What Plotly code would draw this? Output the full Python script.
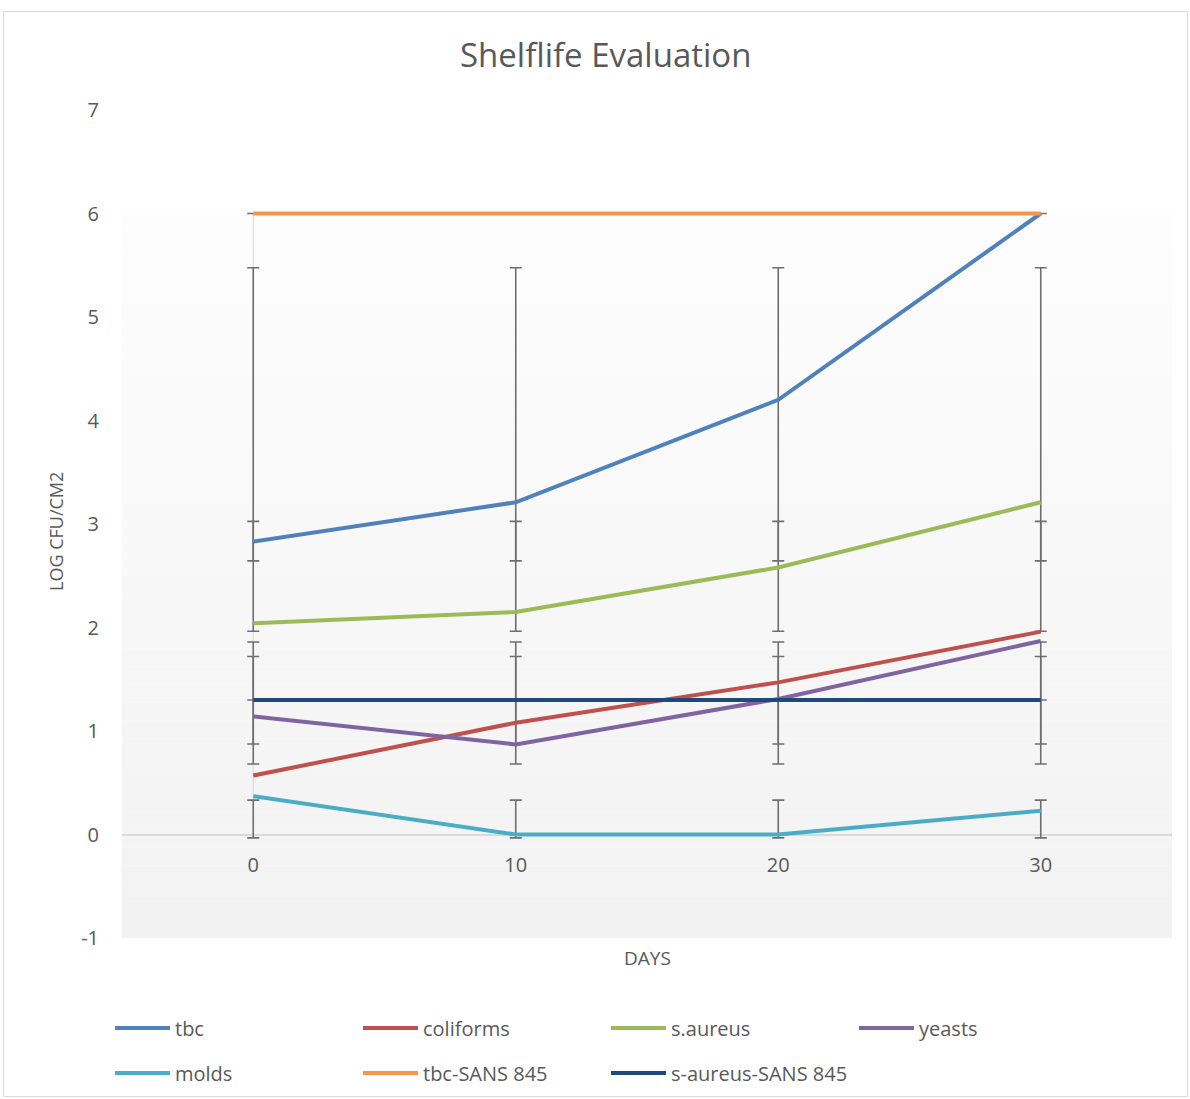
import numpy as np
import plotly.graph_objects as go

# ---------------- data ----------------
days = ["0", "10", "20", "30"]
series_names = ["tbc", "coliforms", "s.aureus", "yeasts", "molds",
                "tbc-SANS 845", "s-aureus-SANS 845"]
tbc = [2.83, 3.21, 4.20, 6.00]
coliforms = [0.57, 1.08, 1.47, 1.96]
s_aureus = [2.04, 2.15, 2.58, 3.21]
yeasts = [1.14, 0.87, 1.31, 1.87]
molds = [0.37, 0.00, 0.00, 0.23]
tbc_sans = [6.0, 6.0, 6.0, 6.0]
s_aureus_sans = [1.3, 1.3, 1.3, 1.3]
series_values = [tbc, coliforms, s_aureus, yeasts, molds, tbc_sans, s_aureus_sans]
y_ticks = [-1, 0, 1, 2, 3, 4, 5, 6, 7]

# ---------------- style ----------------
colors = ["#4f81bd", "#c0504d", "#9bbb59", "#8064a2", "#4bacc6", "#f79646", "#1f497d"]
TEXT = "#595959"
FONT = "Open Sans, sans-serif"
W, H = 1190, 1099
L, R, T, B = 122, 1172, 110, 938  # plot area in px
PW, PH = R - L, B - T


def px_x(x):
    return (x - L) / PW


def px_y(y):
    return (B - y) / PH


fig = go.Figure()

# error bars (Excel "standard deviation" type: centred on the series mean)
for name, vals in zip(series_names, series_values):
    v = np.array(vals, dtype=float)
    m = v.mean()
    sd = v.std(ddof=1)
    fig.add_trace(go.Scatter(
        x=days, y=[m] * len(days), mode="markers",
        marker=dict(size=1, color="rgba(0,0,0,0)"),
        error_y=dict(type="constant", value=sd, color="#6e6e6e", thickness=1.6, width=6),
        showlegend=False, hoverinfo="skip",
    ))

# series lines
for i, (name, vals) in enumerate(zip(series_names, series_values)):
    fig.add_trace(go.Scatter(
        x=days, y=vals, mode="lines", name=name,
        line=dict(color=colors[i], width=4),
        legend="legend" if i < 4 else "legend2",
    ))

shapes = []
# gradient background of the plot area (white -> light grey)
nb = 40
g_top, g_bot = 6, -1
for k in range(nb):
    y0 = g_top - (g_top - g_bot) * k / nb
    y1 = g_top - (g_top - g_bot) * (k + 1) / nb
    c = int(round(253 - (253 - 242) * (k + 0.5) / nb))
    shapes.append(dict(type="rect", xref="paper", yref="y", x0=0, x1=1, y0=y1, y1=y0,
                       fillcolor=f"rgb({c},{c},{c})", line=dict(width=0), layer="below"))
# vertical gridlines
for d in days:
    shapes.append(dict(type="line", xref="x", yref="y", x0=d, x1=d, y0=0, y1=6,
                       line=dict(color="#d9d9d9", width=1), layer="below"))
# chart border
shapes.append(dict(type="rect", xref="paper", yref="paper",
                   x0=px_x(3.5), x1=px_x(1187.5), y0=px_y(1096.5), y1=px_y(11.5),
                   line=dict(color="#d9d9d9", width=1), fillcolor="rgba(0,0,0,0)"))

annotations = [
    dict(text="Shelflife Evaluation", xref="paper", yref="paper", x=px_x(605), y=px_y(55),
         showarrow=False, font=dict(family=FONT, size=33, color=TEXT), xanchor="center", yanchor="middle"),
    dict(text="DAYS", xref="paper", yref="paper", x=px_x(647), y=px_y(958),
         showarrow=False, font=dict(family=FONT, size=19, color=TEXT), xanchor="center", yanchor="middle"),
    dict(text="LOG CFU/CM2", xref="paper", yref="paper", x=px_x(56), y=px_y(532),
         showarrow=False, textangle=-90, font=dict(family=FONT, size=18, color=TEXT),
         xanchor="center", yanchor="middle"),
]

legend_common = dict(orientation="h", xanchor="left", yanchor="middle",
                     itemwidth=55, entrywidth=178, entrywidthmode="pixels",
                     font=dict(size=20, color=TEXT), bgcolor="rgba(0,0,0,0)")

fig.update_layout(
    width=W, height=H,
    margin=dict(l=L, r=W - R, t=T, b=H - B, pad=0, autoexpand=False),
    paper_bgcolor="white", plot_bgcolor="white",
    font=dict(family=FONT, size=20, color=TEXT),
    shapes=shapes, annotations=annotations,
    xaxis=dict(type="category", range=[-0.5, 3.5], showgrid=False, zeroline=False,
               showline=False, ticks="", anchor="free", position=1 / 8,
               ticklabelstandoff=16, tickfont=dict(size=20, color=TEXT)),
    yaxis=dict(range=[-1, 7], tickvals=y_ticks, ticktext=[str(t) for t in y_ticks],
               showgrid=False, zeroline=True,
               zerolinecolor="#d9d9d9", zerolinewidth=1.5, showline=False, ticks="",
               ticklabelstandoff=22, tickfont=dict(size=20, color=TEXT)),
    legend=dict(x=px_x(110), y=px_y(1028), **legend_common),
    legend2=dict(x=px_x(110), y=px_y(1073), **legend_common),
)

fig.write_html("out.html", config={"displayModeBar": False},
               post_script="document.body.style.margin='0px';")
